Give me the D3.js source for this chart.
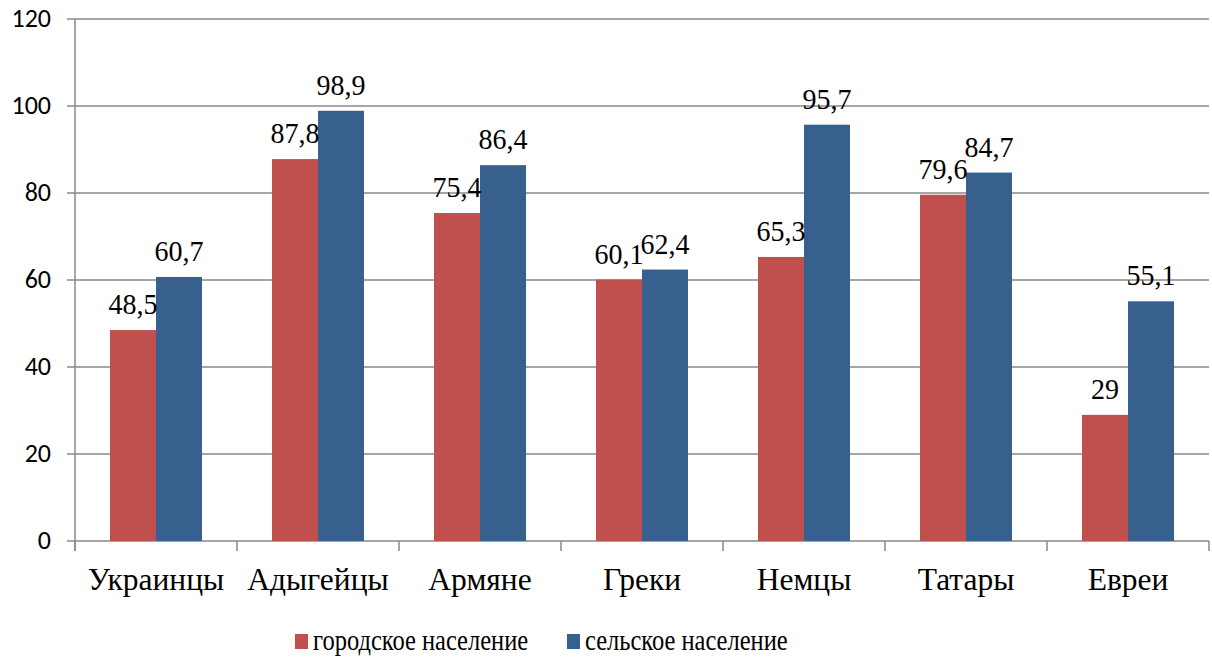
<!DOCTYPE html>
<html><head><meta charset="utf-8">
<script src="https://cdn.jsdelivr.net/npm/d3@7"></script>
<style>body{margin:0;background:#fff}svg{display:block}
.serif{font-family:"Liberation Serif","Times New Roman",Tinos,serif}
.sans{font-family:Carlito,"Open Sans",sans-serif}</style>
</head><body>
<svg id="c" width="1212" height="659"></svg>
<script>
const categories = ["Украинцы","Адыгейцы","Армяне","Греки","Немцы","Татары","Евреи"];
const urban = [48.5, 87.8, 75.4, 60.1, 65.3, 79.6, 29];
const rural = [60.7, 98.9, 86.4, 62.4, 95.7, 84.7, 55.1];
const seriesNames = ["городское население","сельское население"];
const seriesColors = ["#C0504D","#37608F"];
const yTicks = [0,20,40,60,80,100,120];

const svg = d3.select("#c");
const L = 75, R = 1209, T = 19, B = 541;
const x = d3.scaleBand().domain(categories).range([L, R]).paddingInner(70/162).paddingOuter(35/162);
const y = d3.scaleLinear().domain([0,120]).range([B, T]);

svg.append("g").selectAll("line").data(yTicks).join("line")
  .attr("x1", L-8).attr("x2", R).attr("y1", d=>y(d)).attr("y2", d=>y(d))
  .attr("stroke", "#888").attr("stroke-width", 1.5);
svg.append("line").attr("x1", L).attr("x2", L).attr("y1", T).attr("y2", B+10).attr("stroke","#888").attr("stroke-width",1.5);
const bounds = d3.range(categories.length+1).map(i => L + i*(R-L)/categories.length);
svg.append("g").selectAll("line").data(bounds).join("line")
  .attr("x1", d=>d).attr("x2", d=>d).attr("y1", B).attr("y2", B+10)
  .attr("stroke","#888").attr("stroke-width",1.5);

function txt(g, xx, yy, s, opts){
  return g.append("text").attr("transform", `translate(${xx},${yy}) scale(1,${opts.sy||1})`)
    .attr("text-anchor", opts.anchor||"middle").attr("class", opts.cls)
    .style("font-size", opts.size + "px").attr("fill","#000").text(s);
}

yTicks.forEach(t => txt(svg, 51, y(t)+8, t, {anchor:"end", cls:"sans", size:26, sy:1.0}));

const bw = x.bandwidth()/2;
const series = [urban, rural];
series.forEach((vals, si) => {
  svg.append("g").selectAll("rect").data(categories).join("rect")
    .attr("x", c => x(c) + si*bw).attr("width", bw)
    .attr("y", (c,i) => y(vals[i])).attr("height", (c,i) => B - y(vals[i]))
    .attr("fill", seriesColors[si]);
});
series.forEach((vals, si) => {
  categories.forEach((c,i) => {
    txt(svg, x(c) + si*bw + bw/2, y(vals[i]) - 16, String(vals[i]).replace(".", ","),
      {cls:"serif", size:28, sy:1.05});
  });
});

categories.forEach(c => txt(svg, x(c)+x.bandwidth()/2, 590, c, {cls:"serif", size:31.5, sy:1.0}));

const legX = [295, 567];
seriesNames.forEach((n,i) => {
  svg.append("rect").attr("x", legX[i]).attr("y", 634).attr("width", 13).attr("height", 15).attr("fill", seriesColors[i]);
  txt(svg, legX[i]+18, 650, n, {anchor:"start", cls:"serif", size:24.5, sy:1.2});
});
</script>
</body></html>
